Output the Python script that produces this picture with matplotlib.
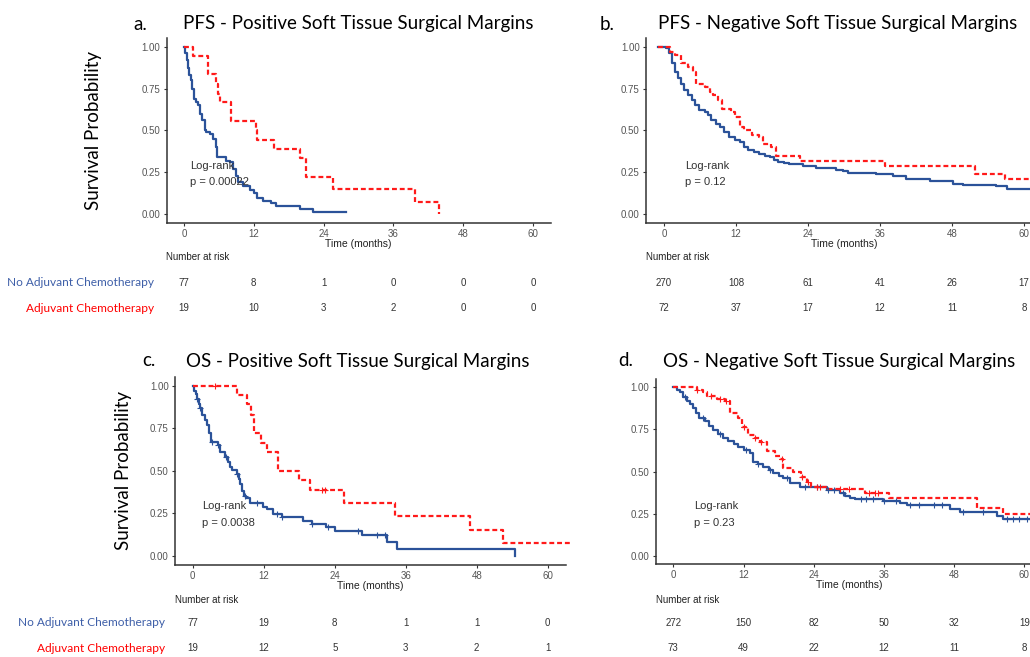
import numpy as np
import matplotlib
matplotlib.use("Agg")
import matplotlib.pyplot as plt

W, H = 1030, 657

# ---- data ----
months = [0, 12, 24, 36, 48, 60]
month_labels = ["0", "12", "24", "36", "48", "60"]
surv_ticks = [0.0, 0.25, 0.5, 0.75, 1.0]
surv_labels = ["0.00", "0.25", "0.50", "0.75", "1.00"]

# a. PFS positive margins
a_no_t = [0, 0.2, 0.45, 0.69, 0.9, 1.15, 1.4, 1.72, 2.0, 2.4, 2.8, 3.15, 3.55, 3.85, 4.4, 5.0,
          5.45, 5.67, 7.3, 7.85, 8.4, 8.9, 9.3, 10.2, 11.3, 12.1, 12.6, 13.5, 15.0, 15.9, 19.9, 22.2]
a_no_s = [1.0, 0.96, 0.92, 0.87, 0.83, 0.80, 0.75, 0.69, 0.67, 0.65, 0.60, 0.56, 0.50, 0.49, 0.48, 0.45,
          0.40, 0.34, 0.32, 0.31, 0.27, 0.23, 0.195, 0.17, 0.145, 0.125, 0.10, 0.08, 0.07, 0.05, 0.032, 0.016]
a_no_end = 27.8
a_adj_t = [0, 1.55, 4.1, 5.45, 5.9, 6.25, 8.1, 12.3, 12.6, 15.4, 19.9, 20.9, 25.6, 39.7, 43.8]
a_adj_s = [1.0, 0.947, 0.84, 0.78, 0.72, 0.67, 0.555, 0.50, 0.445, 0.39, 0.335, 0.22, 0.15, 0.075, 0.0]
a_adj_end = 43.8

# b. PFS negative margins
b_no_t = [-1, 0.4, 0.9, 1.4, 1.8, 2.3, 2.8, 3.4, 4.0, 4.6, 5.2, 5.9, 6.8, 7.3, 7.9, 8.6, 9.3, 10.0,
          10.9, 11.8, 12.6, 13.3, 14.0, 15.0, 15.9, 16.8, 17.6, 18.3, 19.0, 20.0, 20.9, 23.2, 25.4,
          28.7, 29.8, 30.7, 35.4, 38.2, 40.4, 44.3, 48.2, 49.8, 55.4, 57.1]
b_no_s = [1.0, 0.99, 0.96, 0.90, 0.85, 0.81, 0.78, 0.74, 0.71, 0.68, 0.65, 0.62, 0.61, 0.59, 0.56, 0.54,
          0.52, 0.49, 0.46, 0.445, 0.43, 0.40, 0.38, 0.37, 0.36, 0.35, 0.34, 0.325, 0.31, 0.305, 0.30,
          0.29, 0.275, 0.265, 0.255, 0.245, 0.24, 0.225, 0.21, 0.195, 0.18, 0.172, 0.165, 0.15]
b_no_end = 62
b_adj_t = [-1, 0.94, 1.8, 2.9, 4.0, 4.8, 5.3, 6.8, 7.6, 8.2, 9.0, 9.6, 11.2, 11.8, 12.6, 13.4, 14.6,
           15.9, 16.5, 17.9, 18.7, 22.6, 36.8, 51.8, 56.8]
b_adj_s = [1.0, 0.97, 0.95, 0.90, 0.88, 0.85, 0.78, 0.757, 0.73, 0.71, 0.68, 0.63, 0.61, 0.58, 0.52,
           0.50, 0.47, 0.46, 0.42, 0.40, 0.35, 0.32, 0.29, 0.237, 0.21]
b_adj_end = 62

# c. OS positive margins
c_no_t = [0, 0.25, 0.5, 0.7, 1.0, 1.2, 1.6, 2.0, 2.4, 2.8, 3.1, 4.2, 4.6, 5.4, 5.9, 6.3, 6.6, 7.4,
          7.8, 8.0, 8.4, 8.6, 9.0, 9.7, 11.9, 12.5, 13.6, 15.0, 18.7, 20.1, 22.6, 24.0, 28.6, 32.8,
          34.5, 54.4]
c_no_s = [1.0, 0.97, 0.95, 0.92, 0.89, 0.87, 0.83, 0.80, 0.77, 0.72, 0.67, 0.65, 0.61, 0.58, 0.55,
          0.52, 0.505, 0.48, 0.45, 0.42, 0.38, 0.355, 0.34, 0.31, 0.29, 0.275, 0.247, 0.227, 0.207,
          0.188, 0.172, 0.147, 0.123, 0.08, 0.039, 0.0]
c_no_end = 54.4
c_no_cens = [0.7, 1.2, 3.2, 4.3, 5.7, 7.4, 8.8, 10.8, 14.2, 15.0, 20.1, 22.9, 28.0, 31.1, 32.5]
c_adj_t = [0, 7.4, 9.1, 9.8, 10.3, 11.5, 12.5, 14.4, 17.9, 19.8, 25.6, 34.2, 46.9, 52.5]
c_adj_s = [1.0, 0.945, 0.89, 0.83, 0.72, 0.665, 0.61, 0.50, 0.445, 0.39, 0.31, 0.235, 0.155, 0.078]
c_adj_end = 64
c_adj_cens = [3.8, 21.8, 22.4]

# d. OS negative margins
d_no_t = [0, 0.6, 1.1, 1.7, 2.3, 2.8, 3.4, 3.9, 4.3, 5.4, 6.1, 6.8, 7.6, 8.5, 9.4, 10.3, 11.1, 12.0,
          13.1, 13.7, 14.5, 15.4, 16.3, 17.1, 18.0, 18.8, 19.9, 21.7, 26.2, 28.5, 29.4, 30.2, 31.0,
          35.9, 38.7, 39.9, 47.3, 49.0, 55.3, 56.4]
d_no_s = [1.0, 0.985, 0.97, 0.94, 0.92, 0.90, 0.88, 0.85, 0.816, 0.80, 0.77, 0.746, 0.72, 0.697,
          0.68, 0.663, 0.645, 0.628, 0.61, 0.558, 0.545, 0.529, 0.51, 0.489, 0.475, 0.46, 0.43, 0.41,
          0.39, 0.37, 0.355, 0.34, 0.335, 0.325, 0.31, 0.30, 0.28, 0.26, 0.236, 0.218]
d_no_end = 62
d_no_cens = [2.0, 5.0, 8.0, 12.5, 14.5, 16.5, 19.5, 22.5, 24.5, 26.5, 27.5, 29.0, 32.0, 33.0, 34.2,
             36.0, 38.0, 40.5, 42.0, 44.5, 46.0, 49.5, 53.0, 57.0, 58.0, 59.0, 60.5]
d_adj_t = [0, 4.0, 5.0, 5.7, 7.4, 8.8, 9.7, 11.1, 11.7, 12.8, 14.0, 14.8, 16.0, 17.4, 18.2, 18.8,
           20.5, 21.9, 22.8, 23.6, 26.5, 32.8, 36.8, 51.9, 56.4]
d_adj_s = [1.0, 0.985, 0.97, 0.95, 0.93, 0.92, 0.85, 0.82, 0.766, 0.717, 0.70, 0.675, 0.62, 0.59,
           0.574, 0.52, 0.50, 0.47, 0.44, 0.41, 0.396, 0.37, 0.34, 0.281, 0.248]
d_adj_end = 62
d_adj_cens = [4.0, 6.5, 8.0, 9.0, 12.0, 14.0, 15.0, 18.5, 22.0, 23.0, 24.5, 25.0, 28.5, 30.0,
              33.5, 34.5, 35.0]

# numbers at risk
a_risk_no = [77, 8, 1, 0, 0, 0]
a_risk_adj = [19, 10, 3, 2, 0, 0]
b_risk_no = [270, 108, 61, 41, 26, 17]
b_risk_adj = [72, 37, 17, 12, 11, 8]
c_risk_no = [77, 19, 8, 1, 1, 0]
c_risk_adj = [19, 12, 5, 3, 2, 1]
d_risk_no = [272, 150, 82, 50, 32, 19]
d_risk_adj = [73, 49, 22, 12, 11, 8]

pvals = ["p = 0.00022", "p = 0.12", "p = 0.0038", "p = 0.23"]
titles = ["PFS - Positive Soft Tissue Surgical Margins", "PFS - Negative Soft Tissue Surgical Margins",
          "OS - Positive Soft Tissue Surgical Margins", "OS - Negative Soft Tissue Surgical Margins"]
letters = ["a.", "b.", "c.", "d."]

BLUE = "#2B5299"
RED = "#FF1A1A"
LBL_BLUE = "#3E5FA8"
TITLE_FONT = "Lato"
R_FONT = "Liberation Sans"


def px_axes(fig, left, right, top, bottom):
    return fig.add_axes([left / W, 1 - bottom / H, (right - left) / W, (bottom - top) / H])


def ftext(fig, x, y, s, **kw):
    return fig.text(x / W, 1 - y / H, s, **kw)


def km(ax, t, s, tend, color, ls, cens=None):
    xs = list(t) + [tend]
    ys = list(s) + [s[-1]]
    ax.step(xs, ys, where="post", color=color, lw=1.6, ls=ls, clip_on=False, zorder=3 if ls == "-" else 4)
    if cens:
        idx = np.searchsorted(t, cens, side="right") - 1
        ax.plot(cens, np.array(s)[idx], ls="none", marker="+", ms=4, mew=0.8, color=color, zorder=5)


def style_axes(ax):
    ax.set_xlim(-3, 63)
    ax.set_ylim(-0.05, 1.05)
    for side in ("top", "right"):
        ax.spines[side].set_visible(False)
    for side in ("left", "bottom"):
        ax.spines[side].set_color("#333333")
        ax.spines[side].set_linewidth(1.1)
    ax.set_xticks(months)
    ax.set_xticklabels(month_labels)
    ax.set_yticks(surv_ticks)
    ax.set_yticklabels(surv_labels)
    ax.tick_params(length=2.5, width=0.8, color="#333333", labelsize=7, labelcolor="#555555", pad=2,
                   labelfontfamily=R_FONT)
    ax.set_xlabel("Time (months)", fontsize=7.5, color="#222222", family=R_FONT, labelpad=0)
    ax.patch.set_alpha(0)


fig = plt.figure(figsize=(W / 100, H / 100), dpi=100)

# pixel boxes: left, right, top, bottom (axes); row y of table; label right edge
panels = [
    dict(box=(166.5, 550.5, 38.3, 222.7), no=(a_no_t, a_no_s, a_no_end, None),
         adj=(a_adj_t, a_adj_s, a_adj_end, None), lr=(1.0, 0.29),
         risk=(a_risk_no, a_risk_adj), title_y=24, letter_x=133, title_x=183,
         nar_y=257, rows=(283, 308), lab_x=154),
    dict(box=(646, 1042, 38.3, 222.5), no=(b_no_t, b_no_s, b_no_end, None),
         adj=(b_adj_t, b_adj_s, b_adj_end, None), lr=(3.5, 0.29),
         risk=(b_risk_no, b_risk_adj), title_y=24, letter_x=600, title_x=658,
         nar_y=257, rows=(283, 308), lab_x=None),
    dict(box=(175, 565.5, 377.2, 564.5), no=(c_no_t, c_no_s, c_no_end, c_no_cens),
         adj=(c_adj_t, c_adj_s, c_adj_end, c_adj_cens), lr=(1.6, 0.295),
         risk=(c_risk_no, c_risk_adj), title_y=361, letter_x=142, title_x=186,
         nar_y=600, rows=(623, 648), lab_x=165),
    dict(box=(655.8, 1041.9, 378.9, 564.1), no=(d_no_t, d_no_s, d_no_end, d_no_cens),
         adj=(d_adj_t, d_adj_s, d_adj_end, d_adj_cens), lr=(3.5, 0.297),
         risk=(d_risk_no, d_risk_adj), title_y=361, letter_x=618, title_x=663,
         nar_y=600, rows=(623, 648), lab_x=None),
]

for i, p in enumerate(panels):
    l, r, t, b = p["box"]
    ax = px_axes(fig, l, r, t, b)
    style_axes(ax)
    km(ax, *p["no"][:3], BLUE, "-", p["no"][3])
    km(ax, *p["adj"][:3], RED, (0, (2.2, 1.3)), p["adj"][3])
    lx, ly = p["lr"]
    ax.text(lx, ly, "Log-rank", fontsize=8, color="#333333", family=R_FONT, va="center")
    ax.text(lx, ly - 0.1, pvals[i], fontsize=8, color="#333333", family=R_FONT, va="center")

    # titles
    ftext(fig, p["letter_x"], p["title_y"], letters[i], fontsize=13.5, family=TITLE_FONT, va="center")
    ftext(fig, p["title_x"], p["title_y"], titles[i], fontsize=13.5, family=TITLE_FONT, va="center")

    # risk table sharing the x scale of the plot
    r1, r2 = p["rows"]
    tab = px_axes(fig, l, r, r1, r2)
    tab.set_xlim(-3, 63)
    tab.set_ylim(0, 1)
    tab.axis("off")
    for xm, n1, n2 in zip(months, p["risk"][0], p["risk"][1]):
        tab.text(xm, 1, str(n1), ha="center", va="center", fontsize=7, color="#333333",
                 family=R_FONT, clip_on=False)
        tab.text(xm, 0, str(n2), ha="center", va="center", fontsize=7, color="#333333",
                 family=R_FONT, clip_on=False)
    ftext(fig, l, p["nar_y"], "Number at risk", fontsize=7, color="#222222", family=R_FONT, va="center")
    if p["lab_x"]:
        ftext(fig, p["lab_x"], r1, "No Adjuvant Chemotherapy", fontsize=8.6, color=LBL_BLUE,
              family=TITLE_FONT, ha="right", va="center")
        ftext(fig, p["lab_x"], r2, "Adjuvant Chemotherapy", fontsize=8.6, color="#FF0000",
              family=TITLE_FONT, ha="right", va="center")

ftext(fig, 93, 130, "Survival Probability", fontsize=13.5, family=TITLE_FONT, rotation=90,
      ha="center", va="center")
ftext(fig, 124, 470, "Survival Probability", fontsize=13.5, family=TITLE_FONT, rotation=90,
      ha="center", va="center")

fig.savefig("out.png", dpi=100, facecolor="white")
